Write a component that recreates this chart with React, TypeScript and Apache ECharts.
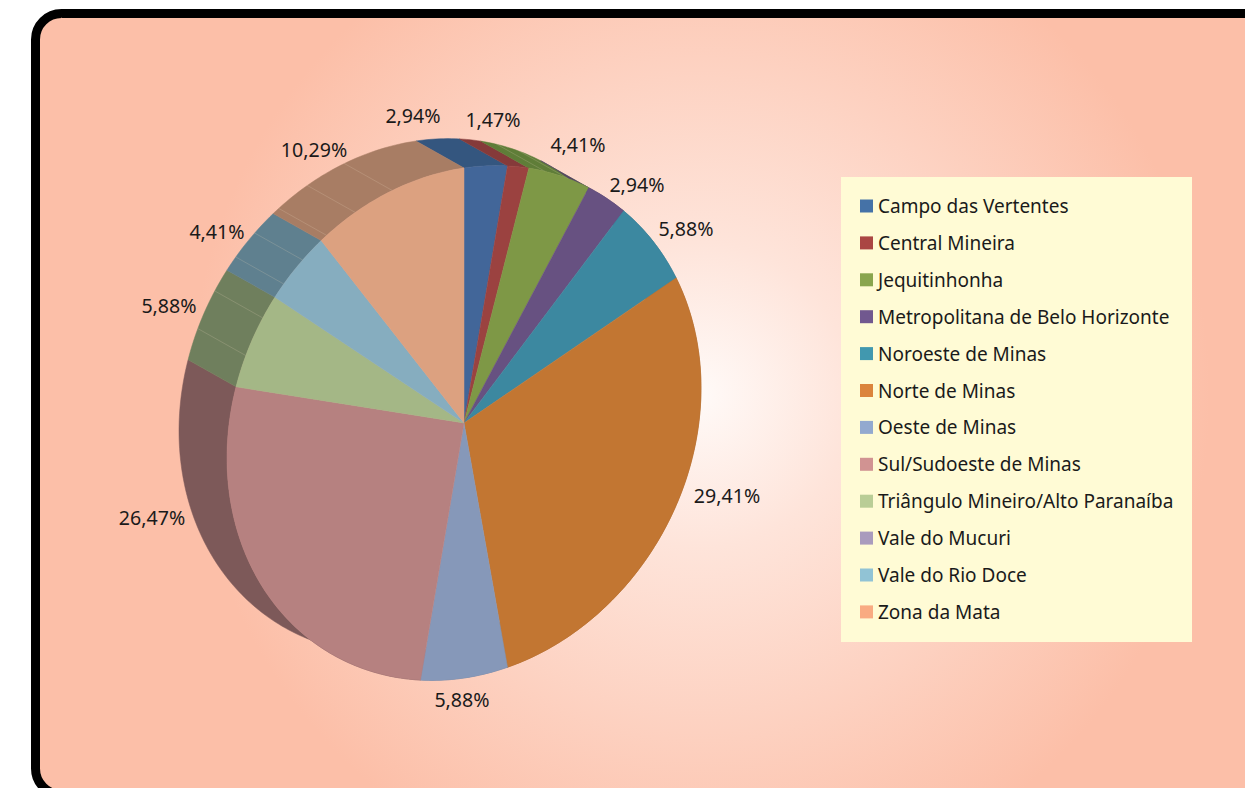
import React, { useEffect, useRef } from "react";
import * as echarts from "echarts";

const categories = [
  "Campo das Vertentes",
  "Central Mineira",
  "Jequitinhonha",
  "Metropolitana de Belo Horizonte",
  "Noroeste de Minas",
  "Norte de Minas",
  "Oeste de Minas",
  "Sul/Sudoeste de Minas",
  "Triângulo Mineiro/Alto Paranaíba",
  "Vale do Mucuri",
  "Vale do Rio Doce",
  "Zona da Mata",
];
const percentages = [2.94, 1.47, 4.41, 2.94, 5.88, 29.41, 5.88, 26.47, 5.88, 0, 4.41, 10.29];

const legendColors = ["#4572A7", "#AA4643", "#89A54E", "#71588F", "#4198AF", "#DB843D", "#93A9CF", "#D19392", "#B9CD96", "#A99BBD", "#91C3D5", "#F9AB82"];
const faceColors = ["#426699", "#9B4240", "#7E9846", "#675181", "#3C88A0", "#C27632", "#8698B9", "#B68180", "#A4B786", "#9A8DAC", "#86ADBF", "#DCA180"];
const wallColors = ["#34567F", "#853A3A", "#5F7D38", "#554268", "#316F84", "#A06028", "#6F7D98", "#7D5959", "#6F7F5D", "#807590", "#5F808F", "#A87D64"];
const labelPositions: [number, number][] = [
  [413, 115], [493, 119], [578, 144], [637, 184], [686, 228], [727, 495],
  [462, 699], [152, 517], [169, 305], [0, 0], [217, 231], [314, 149],
];
const wallFacetAngles = [20, 26, -17.6, -27.3, -35.4, -42.9, -49.5, -58.1, -67];

const TOTAL = percentages.reduce((a, b) => a + b, 0);
const FONT = '"Noto Sans", sans-serif';
const CX = 464, CY = 423;
const OFFSET_X = -48, OFFSET_Y = -27;

// The pie's plane is seen obliquely: angle → screen by an affine map.
const project = (deg: number, dx = 0, dy = 0): [number, number] => {
  const t = (deg * Math.PI) / 180;
  const s = Math.sin(t), c = Math.cos(t);
  return [CX + 237 * s + dx, CY - 255 * c - 35 * s + dy];
};
const startAngle = (i: number) =>
  (percentages.slice(0, i).reduce((a, b) => a + b, 0) / TOTAL) * 360;
const arc = (a0: number, a1: number, dx = 0, dy = 0) => {
  const n = Math.max(2, Math.ceil(Math.abs(a1 - a0)));
  const pts: [number, number][] = [];
  for (let k = 0; k <= n; k++) pts.push(project(a0 + ((a1 - a0) * k) / n, dx, dy));
  return pts;
};

export default function App() {
  const ref = useRef<HTMLDivElement>(null);
  useEffect(() => {
    const chart = echarts.init(ref.current!, undefined, { renderer: "svg" });
    const wallSeries = {
      type: "custom",
      coordinateSystem: "none",
      silent: true,
      z: 2,
      data: percentages.map((v) => [v]),
      renderItem: (params: any, api: any) => {
        const i = params.dataIndex;
        const v = api.value(0);
        if (!v) return { type: "group", children: [] };
        const a0 = startAngle(i);
        const a1 = a0 + (v / TOTAL) * 360;
        const pts = [...arc(a0, a1), ...arc(a0, a1, OFFSET_X, OFFSET_Y).reverse()];
        return {
          type: "polygon",
          shape: { points: pts },
          style: { fill: wallColors[i], stroke: wallColors[i], lineWidth: 0.5 },
        };
      },
    };
    const facetSeries = {
      type: "custom",
      coordinateSystem: "none",
      silent: true,
      z: 3,
      data: wallFacetAngles.map((a) => [a]),
      renderItem: (_params: any, api: any) => {
        const a = api.value(0);
        const p = project(a);
        const q = project(a, OFFSET_X, OFFSET_Y);
        return {
          type: "line",
          shape: { x1: p[0], y1: p[1], x2: q[0], y2: q[1] },
          style: { stroke: "rgba(235,215,190,0.2)", lineWidth: 1 },
        };
      },
    };
    const faceSeries = categories.map((name, i) => ({
      type: "custom",
      name,
      coordinateSystem: "none",
      silent: true,
      z: 4,
      itemStyle: { color: legendColors[i] },
      data: [[percentages[i]]],
      renderItem: (_params: any, api: any) => {
        const v = api.value(0);
        if (!v) return { type: "group", children: [] };
        const a0 = startAngle(i);
        const a1 = a0 + (v / TOTAL) * 360;
        return {
          type: "group",
          children: [
            {
              type: "polygon",
              shape: { points: [[CX, CY], ...arc(a0, a1)] },
              style: { fill: faceColors[i], stroke: faceColors[i], lineWidth: 0.5 },
            },
            {
              type: "text",
              style: {
                text: v.toFixed(2).replace(".", ",") + "%",
                x: labelPositions[i][0],
                y: labelPositions[i][1],
                fill: "#1a1a1a",
                font: `19.6px ${FONT}`,
                align: "center",
                verticalAlign: "middle",
              },
            },
          ],
        };
      },
    }));
    chart.setOption({
      animation: false,
      backgroundColor: "#ffffff",
      graphic: [
        {
          type: "rect",
          z: -2,
          shape: { x: 35.5, y: 13.5, width: 1400, height: 781, r: 26 },
          style: {
            fill: new echarts.graphic.RadialGradient(700, 395, 510, [
              { offset: 0, color: "#fffaf8" },
              { offset: 0.3, color: "#fee4da" },
              { offset: 1, color: "#fcbfa8" },
            ], true),
            stroke: "#000000",
            lineWidth: 9,
          },
        },
        {
          type: "rect",
          z: -1,
          shape: { x: 841, y: 177, width: 351, height: 465 },
          style: { fill: "#fffbd5" },
        },
      ],
      legend: {
        orient: "vertical",
        left: 860,
        top: 196,
        padding: 0,
        itemWidth: 13,
        itemHeight: 13,
        itemGap: 16.9,
        icon: "rect",
        selectedMode: false,
        data: categories,
        textStyle: { fontFamily: FONT, fontSize: 19, color: "#1a1a1a", lineHeight: 20 },
      },
      series: [wallSeries, facetSeries, ...faceSeries],
    });
    return () => chart.dispose();
  }, []);
  return (
    <div
      ref={ref}
      style={{ position: "fixed", left: 0, top: 0, width: 1245, height: 788, overflow: "hidden" }}
    />
  );
}
